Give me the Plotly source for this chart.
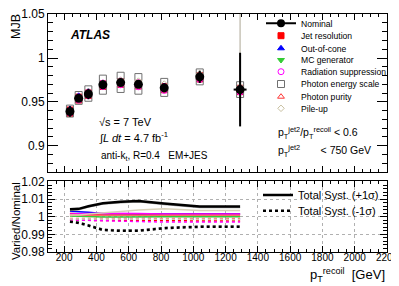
import plotly.graph_objects as go

# ---------------- data ----------------
pt = [236, 290, 350, 440, 550, 660, 820, 1040, 1290]
nominal = [0.939, 0.954, 0.959, 0.9695, 0.972, 0.970, 0.966, 0.9785, 0.964]
nominal_err = [0.006, 0.004, 0.006, 0.005, 0.004, 0.004, 0.005, 0.007, 0.042]
pt_err = [0, 0, 0, 0, 0, 0, 0, 0, 40]
pileup_err_plus = [0, 0, 0, 0, 0, 0, 0, 0, 0.09]
pileup_err_minus = [0, 0, 0, 0, 0, 0, 0, 0, 0.04]

# Varied / Nominal ratios (up = +1 sigma, dn = -1 sigma)
jer_up = [1.0018, 1.0015, 1.0012, 1.0010, 1.0010, 1.0012, 1.0015, 1.0015, 1.0015]
jer_dn = [0.9980, 0.9980, 0.9982, 0.9980, 0.9980, 0.9980, 0.9978, 0.9976, 0.9976]
ooc_up = [1.0032, 1.0030, 1.0025, 1.0018, 1.0016, 1.0015, 1.0015, 1.0015, 1.0015]
ooc_dn = [0.9985, 0.9987, 0.9990, 0.9990, 0.9990, 0.9990, 0.9990, 0.9988, 0.9988]
mc_var = [1.0005, 1.0003, 1.0000, 0.9998, 0.9998, 1.0000, 1.0000, 1.0000, 1.0000]
rad_up = [1.0015, 1.0015, 1.0018, 1.0020, 1.0020, 1.0018, 1.0015, 1.0015, 1.0015]
rad_dn = [0.9982, 0.9980, 0.9980, 0.9978, 0.9975, 0.9972, 0.9970, 0.9970, 0.9970]
pes_up = [1.0035, 1.0040, 1.0055, 1.0072, 1.0080, 1.0085, 1.0070, 1.0052, 1.0052]
pes_dn = [0.9975, 0.9970, 0.9955, 0.9930, 0.9925, 0.9925, 0.9940, 0.9948, 0.9948]
pur_up = [1.0010, 1.0008, 1.0008, 1.0008, 1.0008, 1.0008, 1.0008, 1.0008, 1.0008]
pur_dn = [0.9990, 0.9990, 0.9990, 0.9990, 0.9990, 0.9990, 0.9990, 0.9990, 0.9990]
pu_up = [1.0010, 1.0010, 1.0015, 1.0020, 1.0030, 1.0038, 1.0045, 1.0035, 1.0035]
pu_dn = [0.9988, 0.9988, 0.9986, 0.9985, 0.9985, 0.9985, 0.9985, 0.9985, 0.9985]
total_up = [1.0042, 1.0045, 1.0060, 1.0077, 1.0085, 1.0090, 1.0075, 1.0058, 1.0058]
total_dn = [0.9972, 0.9965, 0.9950, 0.9925, 0.9920, 0.9920, 0.9935, 0.9943, 0.9943]

syst_names = ["Jet resolution", "Out-of-cone", "MC generator", "Radiation suppression",
              "Photon energy scale", "Photon purity", "Pile-up"]
total_names = ["Total Syst. (+1σ)", "Total Syst. (-1σ)"]

x_ticks = [200, 400, 600, 800, 1000, 1200, 1400, 1600, 1800, 2000, 2200]
top_y_ticks = [0.9, 0.95, 1.0, 1.05]
top_y_text = ["0.9", "0.95", "1", "1.05"]
bot_y_ticks = [0.98, 0.99, 1.0, 1.01, 1.02]
bot_y_text = ["0.98", "0.99", "1", "1.01", "1.02"]

# ---------------- styles ----------------
FONT = "Liberation Sans, Arial, Helvetica, sans-serif"
L, R, T, B = 48, 387, 14, 252   # plot area in screenshot pixels
W, H = 399, 286
OFF = 8                          # default page body margin


def px2x(p):
    return (p - L) / (R - L)


def py2y(p):
    return (B - p) / (B - T)


styles = [
    dict(up=jer_up, dn=jer_dn, color="#ff0000", symbol="square", size=6, lc="#ff0000"),
    dict(up=ooc_up, dn=ooc_dn, color="#0000ff", symbol="triangle-up", size=6, lc="#0000ff"),
    dict(up=mc_var, dn=None, color="#33cc33", symbol="triangle-down", size=6, lc="#33cc33"),
    dict(up=rad_up, dn=rad_dn, color="#ff00ff", symbol="circle-open", size=6, lc="#ff00ff"),
    dict(up=pes_up, dn=pes_dn, color="#707070", symbol="square-open", size=7, lc="#a0a0a0"),
    dict(up=pur_up, dn=pur_dn, color="#ff3333", symbol="triangle-up-open", size=6, lc="#ff6666"),
    dict(up=pu_up, dn=pu_dn, color="#c8bfa0", symbol="diamond-open", size=5, lc="#d8d0b8"),
]

fig = go.Figure()

legend_rows = [23.3, 35.7, 48.3, 60.0, 71.7, 84.0, 96.7, 108.3]
legend_ids = ["legend"] + ["legend%d" % i for i in range(2, 11)]

# ---- bottom panel: ratio lines ----
for s in styles:
    fig.add_trace(go.Scatter(x=pt, y=s["up"], mode="lines", xaxis="x", yaxis="y",
                             line=dict(color=s["lc"], width=1.5), showlegend=False))
    if s["dn"] is not None:
        fig.add_trace(go.Scatter(x=pt, y=s["dn"], mode="lines", xaxis="x", yaxis="y",
                                 line=dict(color=s["lc"], width=1.5, dash="dot"), showlegend=False))

fig.add_trace(go.Scatter(x=pt, y=total_up, mode="lines", xaxis="x", yaxis="y",
                         name=total_names[0], legend=legend_ids[8],
                         line=dict(color="black", width=2.5)))
fig.add_trace(go.Scatter(x=pt, y=total_dn, mode="lines", xaxis="x", yaxis="y",
                         name=total_names[1], legend=legend_ids[9],
                         line=dict(color="black", width=2.5, dash="dot")))

# ---- top panel: varied points ----
for i, s in enumerate(styles):
    xs = list(pt)
    ys = [n * r for n, r in zip(nominal, s["up"])]
    if s["dn"] is not None:
        xs += list(pt)
        ys += [n * r for n, r in zip(nominal, s["dn"])]
    kw = {}
    if syst_names[i] == "Pile-up":
        pad = [0] * len(pt) if s["dn"] is not None else []
        kw["error_y"] = dict(type="data", symmetric=False,
                             array=pileup_err_plus + pad, arrayminus=pileup_err_minus + pad,
                             color="#c8c4b8", thickness=1.5, width=0)
    fig.add_trace(go.Scatter(x=xs, y=ys, mode="markers", xaxis="x2", yaxis="y2",
                             name=syst_names[i], legend=legend_ids[i + 1],
                             marker=dict(color=s["color"], symbol=s["symbol"], size=s["size"],
                                         line=dict(color=s["color"], width=1)), **kw))

# nominal
fig.add_trace(go.Scatter(x=pt, y=nominal, mode="markers", xaxis="x2", yaxis="y2",
                         showlegend=False,
                         marker=dict(color="black", symbol="circle", size=9),
                         error_y=dict(type="data", array=nominal_err, color="black", thickness=2, width=0),
                         error_x=dict(type="data", array=pt_err, color="black", thickness=2, width=0)))
fig.add_trace(go.Scatter(x=[None], y=[None], mode="lines+markers", xaxis="x2", yaxis="y2",
                         name="Nominal", legend=legend_ids[0],
                         marker=dict(color="black", symbol="circle", size=8),
                         line=dict(color="black", width=2)))

# ---------------- layout ----------------
axis_common = dict(showline=True, linecolor="black", linewidth=1, mirror="allticks",
                   ticks="inside", tickcolor="black", zeroline=False, ticklabeloverflow="allow")

lay = dict(
    width=W - OFF, height=H - OFF,
    margin=dict(l=L - OFF, r=W - R, t=T - OFF, b=H - B, pad=0, autoexpand=False),
    paper_bgcolor="white", plot_bgcolor="white",
    font=dict(family=FONT, color="black"),
    xaxis=dict(domain=[0, 1], anchor="y", range=[100, 2200], tickvals=x_ticks,
               ticklen=6, tickfont=dict(size=10), ticklabelstandoff=-4,
               showgrid=True, gridcolor="#b0b0b0", griddash="dot", gridwidth=1,
               minor=dict(dtick=50, tick0=200, ticklen=3, ticks="inside", tickcolor="black", showgrid=False),
               **axis_common),
    yaxis=dict(domain=[0, 71 / 238], anchor="x", range=[0.98, 1.0203], tickvals=bot_y_ticks,
               ticktext=bot_y_text, ticklen=7, tickfont=dict(size=12), showgrid=True,
               gridcolor="#b0b0b0", griddash="dot", gridwidth=1,
               minor=dict(dtick=0.002, tick0=0.98, ticklen=4, ticks="inside", tickcolor="black", showgrid=False),
               **axis_common),
    xaxis2=dict(domain=[0, 1], anchor="y2", matches="x", range=[100, 2200], tickvals=x_ticks,
                showticklabels=False, ticklen=6, showgrid=False,
                minor=dict(dtick=50, tick0=200, ticklen=3, ticks="inside", tickcolor="black"),
                **axis_common),
    yaxis2=dict(domain=[80 / 238, 1], anchor="x2", range=[0.87, 1.0502], tickvals=top_y_ticks,
                ticktext=top_y_text, ticklen=10, tickfont=dict(size=12), showgrid=False,
                minor=dict(dtick=0.01, tick0=0.9, ticklen=5, ticks="inside", tickcolor="black"),
                **axis_common),
)

for k in range(8):
    lay[legend_ids[k]] = dict(x=px2x(261), y=py2y(legend_rows[k]), xanchor="left", yanchor="middle",
                              xref="paper", yref="paper", bgcolor="rgba(0,0,0,0)",
                              font=dict(size=8.6, family=FONT), borderwidth=0)
for k, row in zip([8, 9], [195.0, 210.7]):
    lay[legend_ids[k]] = dict(x=px2x(258), y=py2y(row), xanchor="left", yanchor="middle",
                              xref="paper", yref="paper", bgcolor="rgba(0,0,0,0)",
                              font=dict(size=11, family=FONT), borderwidth=0)

fig.update_layout(**lay)


def ann(text, x, y, size, xanchor="left", yanchor="middle", textangle=0):
    fig.add_annotation(text=text, x=px2x(x), y=py2y(y), xref="paper", yref="paper",
                       xanchor=xanchor, yanchor=yanchor, showarrow=False, textangle=textangle,
                       font=dict(size=size, family=FONT, color="black"))


ann("<b><i>ATLAS</i></b>", 68, 35, 12)
ann("√s = 7 TeV", 97, 122, 11)
ann("∫<i>L dt</i> = 4.7 fb<sup>-1</sup>", 97, 137.5, 11)
ann("anti-k<sub>t</sub>, R=0.4   EM+JES", 99, 156, 10)
ann("p<sub>T</sub><sup>jet2</sup>/p<sub>T</sub><sup>recoil</sup> < 0.6", 276, 133, 10.5)
ann("p<sub>T</sub><sup>jet2</sup>       < 750 GeV", 276, 151, 10.5)
ann("p<sub>T</sub><sup>recoil</sup>  [GeV]", 387, 275, 13, xanchor="right")
ann("MJB", 16, 27, 12.5, xanchor="center", yanchor="middle", textangle=-90)
ann("Varied/Nominal", 16, 221, 11.5, xanchor="center", yanchor="middle", textangle=-90)

fig.write_html("out.html")
